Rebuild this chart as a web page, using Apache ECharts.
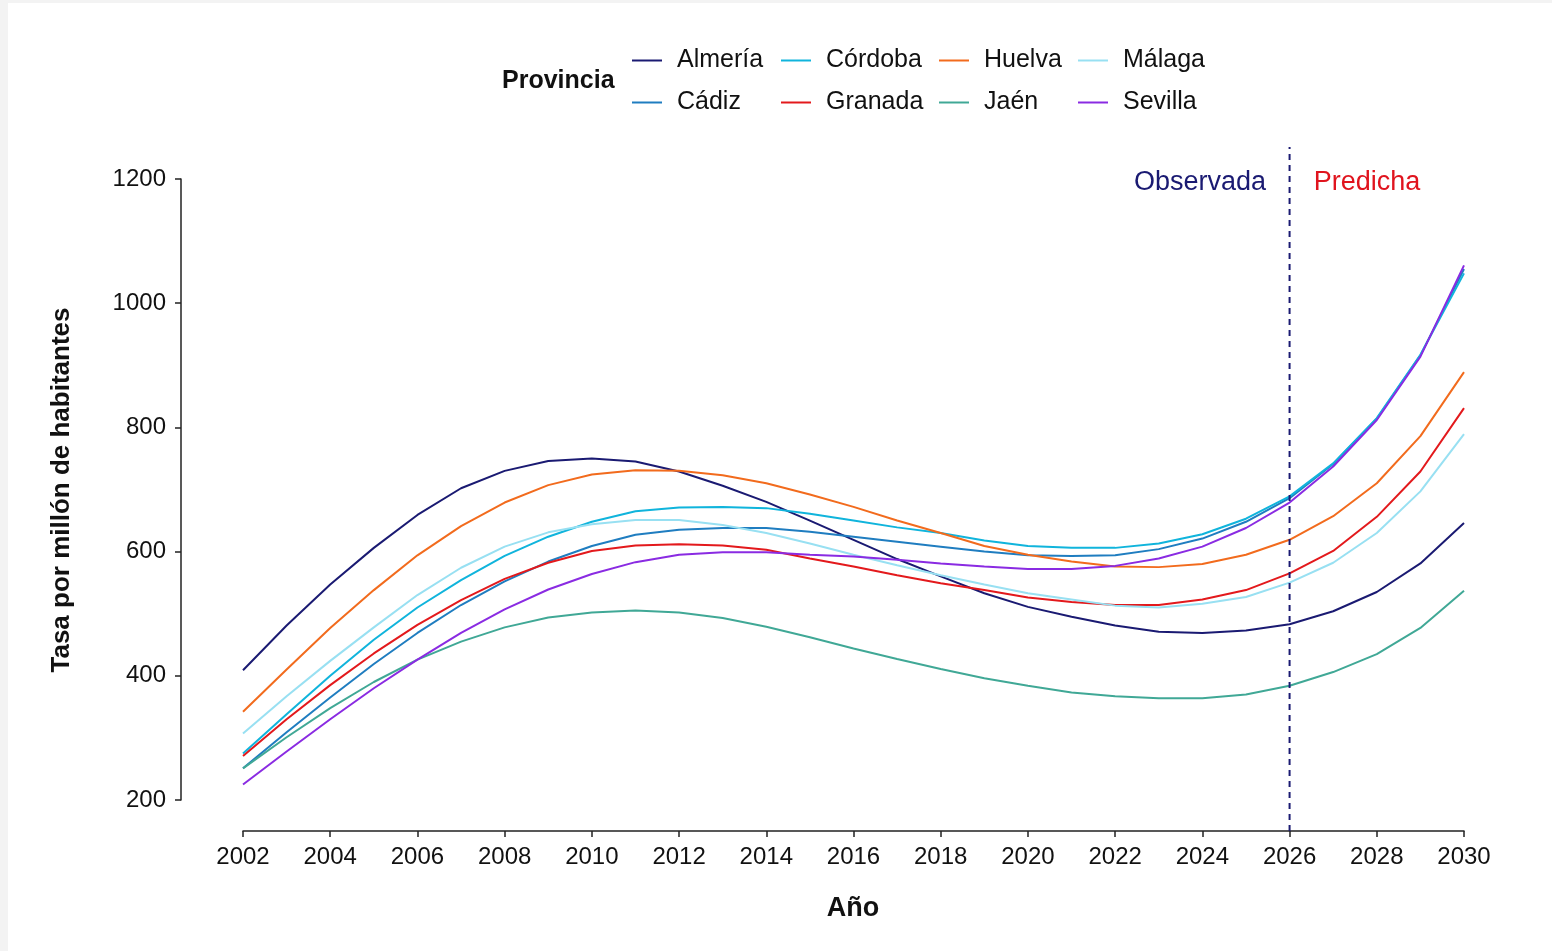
<!DOCTYPE html>
<html>
<head>
<meta charset="utf-8">
<script src="https://cdn.jsdelivr.net/npm/echarts@6/dist/echarts.min.js"></script>
<style>
  html, body { margin: 0; padding: 0; background: #f3f3f3; width: 1552px; height: 951px; overflow: hidden; }
  #chart { position: absolute; left: 8px; top: 3px; width: 1544px; height: 948px; background: #ffffff; }
</style>
</head>
<body>
<div id="chart"></div>
<script>
// ---------------- DATA ----------------
const years = [2002, 2003, 2004, 2005, 2006, 2007, 2008, 2009, 2010, 2011, 2012, 2013, 2014, 2015,
               2016, 2017, 2018, 2019, 2020, 2021, 2022, 2023, 2024, 2025, 2026, 2027, 2028, 2029, 2030];
const provinces = ['Almería', 'Cádiz', 'Córdoba', 'Granada', 'Huelva', 'Jaén', 'Málaga', 'Sevilla'];

const almeria = [409, 481, 547, 606, 659, 702, 730, 746, 750, 745, 729, 706, 680, 650, 619, 588, 560, 533, 511, 495, 481, 471, 469, 473, 483, 504, 535, 581, 646];
const cadiz   = [251, 309, 365, 419, 469, 514, 552, 584, 609, 627, 635, 638, 638, 632, 624, 616, 608, 600, 594, 593, 594, 604, 621, 648, 686, 741, 814, 916, 1055];
const cordoba = [275, 338, 400, 458, 510, 554, 593, 624, 648, 665, 671, 672, 670, 661, 650, 639, 630, 618, 609, 606, 606, 613, 628, 653, 689, 742, 815, 917, 1048];
const granada = [271, 330, 385, 436, 482, 522, 556, 582, 601, 610, 612, 610, 603, 589, 576, 562, 549, 538, 526, 519, 514, 514, 523, 538, 565, 601, 656, 729, 831];
const huelva  = [342, 410, 477, 538, 594, 641, 679, 707, 724, 731, 730, 723, 710, 692, 672, 650, 630, 609, 595, 584, 576, 575, 580, 595, 619, 657, 710, 786, 889];
const jaen    = [251, 301, 348, 390, 426, 455, 478, 494, 502, 505, 502, 493, 479, 462, 444, 427, 411, 396, 384, 373, 367, 364, 364, 370, 384, 406, 435, 477, 537];
const malaga  = [307, 367, 424, 478, 530, 574, 608, 631, 644, 651, 651, 643, 630, 613, 595, 578, 562, 547, 533, 523, 513, 510, 516, 527, 550, 582, 630, 697, 789];
const sevilla = [225, 278, 330, 380, 426, 469, 507, 539, 564, 583, 595, 599, 599, 595, 592, 587, 581, 576, 572, 572, 577, 589, 608, 638, 679, 737, 812, 914, 1061];

const xMin = 2002, xMax = 2030, xStep = 2;
const yMin = 200, yMax = 1200, yStep = 200;
const predictionStart = 2026;

// ---------------- STYLE ----------------
const colors = {
  'Almería': '#1a1a72',
  'Cádiz':   '#1f7dc0',
  'Córdoba': '#10b4dc',
  'Granada': '#e3191c',
  'Huelva':  '#f26b1d',
  'Jaén':    '#40a896',
  'Málaga':  '#98e0f2',
  'Sevilla': '#8a2be2'
};
const seriesValues = [almeria, cadiz, cordoba, granada, huelva, jaen, malaga, sevilla];
const FONT = "'Liberation Sans', Arial, sans-serif";
const AXIS_COLOR = '#222';

const chart = echarts.init(document.getElementById('chart'), null, { renderer: 'canvas' });

const lineSeries = provinces.map((name, i) => ({
  name: name,
  type: 'line',
  xAxisIndex: 0,
  yAxisIndex: 0,
  data: years.map((y, j) => [y, seriesValues[i][j]]),
  symbol: 'none',
  showSymbol: false,
  smooth: false,
  color: colors[name],
  lineStyle: { width: 2, color: colors[name] },
  emphasis: { disabled: true },
  silent: true,
  z: 3
}));

// dashed divider between observed and predicted
lineSeries.push({
  name: '__divider',
  type: 'line',
  xAxisIndex: 1,
  yAxisIndex: 1,
  data: [[predictionStart, 0], [predictionStart, 1]],
  symbol: 'none',
  lineStyle: { width: 2, color: '#1a1a72', type: [6, 5] },
  silent: true,
  z: 5
});

function legendCol(items, left) {
  return {
    data: items,
    orient: 'vertical',
    left: left,
    top: 45,
    padding: 0,
    icon: 'rect',
    itemWidth: 30,
    itemHeight: 2,
    itemGap: 17,
    selectedMode: false,
    textStyle: { fontFamily: FONT, fontSize: 25, color: '#111', padding: [0, 0, 0, 10] }
  };
}

const option = {
  animation: false,
  backgroundColor: '#ffffff',
  grid: [
    { left: 235, right: 88, top: 176, bottom: 151, containLabel: false },
    { left: 235, right: 88, top: 144, bottom: 120, containLabel: false }
  ],
  xAxis: [
    {
      type: 'value', gridIndex: 0, min: xMin, max: xMax, interval: xStep,
      offset: 31,
      axisLine: { show: true, onZero: false, lineStyle: { color: AXIS_COLOR, width: 1.5 } },
      axisTick: { show: true, length: 6, lineStyle: { color: AXIS_COLOR, width: 1.5 } },
      axisLabel: { fontFamily: FONT, fontSize: 24, color: '#111', margin: 14, formatter: v => String(v) },
      splitLine: { show: false }
    },
    { type: 'value', gridIndex: 1, min: xMin, max: xMax, show: false }
  ],
  yAxis: [
    {
      type: 'value', gridIndex: 0, min: yMin, max: yMax, interval: yStep,
      offset: 62,
      axisLine: { show: true, onZero: false, lineStyle: { color: AXIS_COLOR, width: 1.5 } },
      axisTick: { show: true, length: 6, lineStyle: { color: AXIS_COLOR, width: 1.5 } },
      axisLabel: { fontFamily: FONT, fontSize: 24, color: '#111', margin: 15, formatter: v => String(v) },
      splitLine: { show: false }
    },
    { type: 'value', gridIndex: 1, min: 0, max: 1, show: false }
  ],
  legend: [
    legendCol(['Almería', 'Cádiz'], 624),
    legendCol(['Córdoba', 'Granada'], 773),
    legendCol(['Huelva', 'Jaén'], 931),
    legendCol(['Málaga', 'Sevilla'], 1070)
  ],
  graphic: [
    { type: 'text', x: 494, y: 78, style: { text: 'Provincia', font: `bold 25px ${FONT}`, fill: '#111', align: 'left', verticalAlign: 'middle' } },
    { type: 'text', x: 1192, y: 180, style: { text: 'Observada', font: `27px ${FONT}`, fill: '#1a1a72', align: 'center', verticalAlign: 'middle' } },
    { type: 'text', x: 1359, y: 180, style: { text: 'Predicha', font: `27px ${FONT}`, fill: '#e0141e', align: 'center', verticalAlign: 'middle' } },
    { type: 'text', x: 845, y: 906, style: { text: 'Año', font: `bold 27px ${FONT}`, fill: '#111', align: 'center', verticalAlign: 'middle' } },
    { type: 'text', x: 54, y: 487, rotation: Math.PI / 2, style: { text: 'Tasa por millón de habitantes', font: `bold 26px ${FONT}`, fill: '#111', align: 'center', verticalAlign: 'middle' } }
  ],
  series: lineSeries
};

chart.setOption(option);
</script>
</body>
</html>
